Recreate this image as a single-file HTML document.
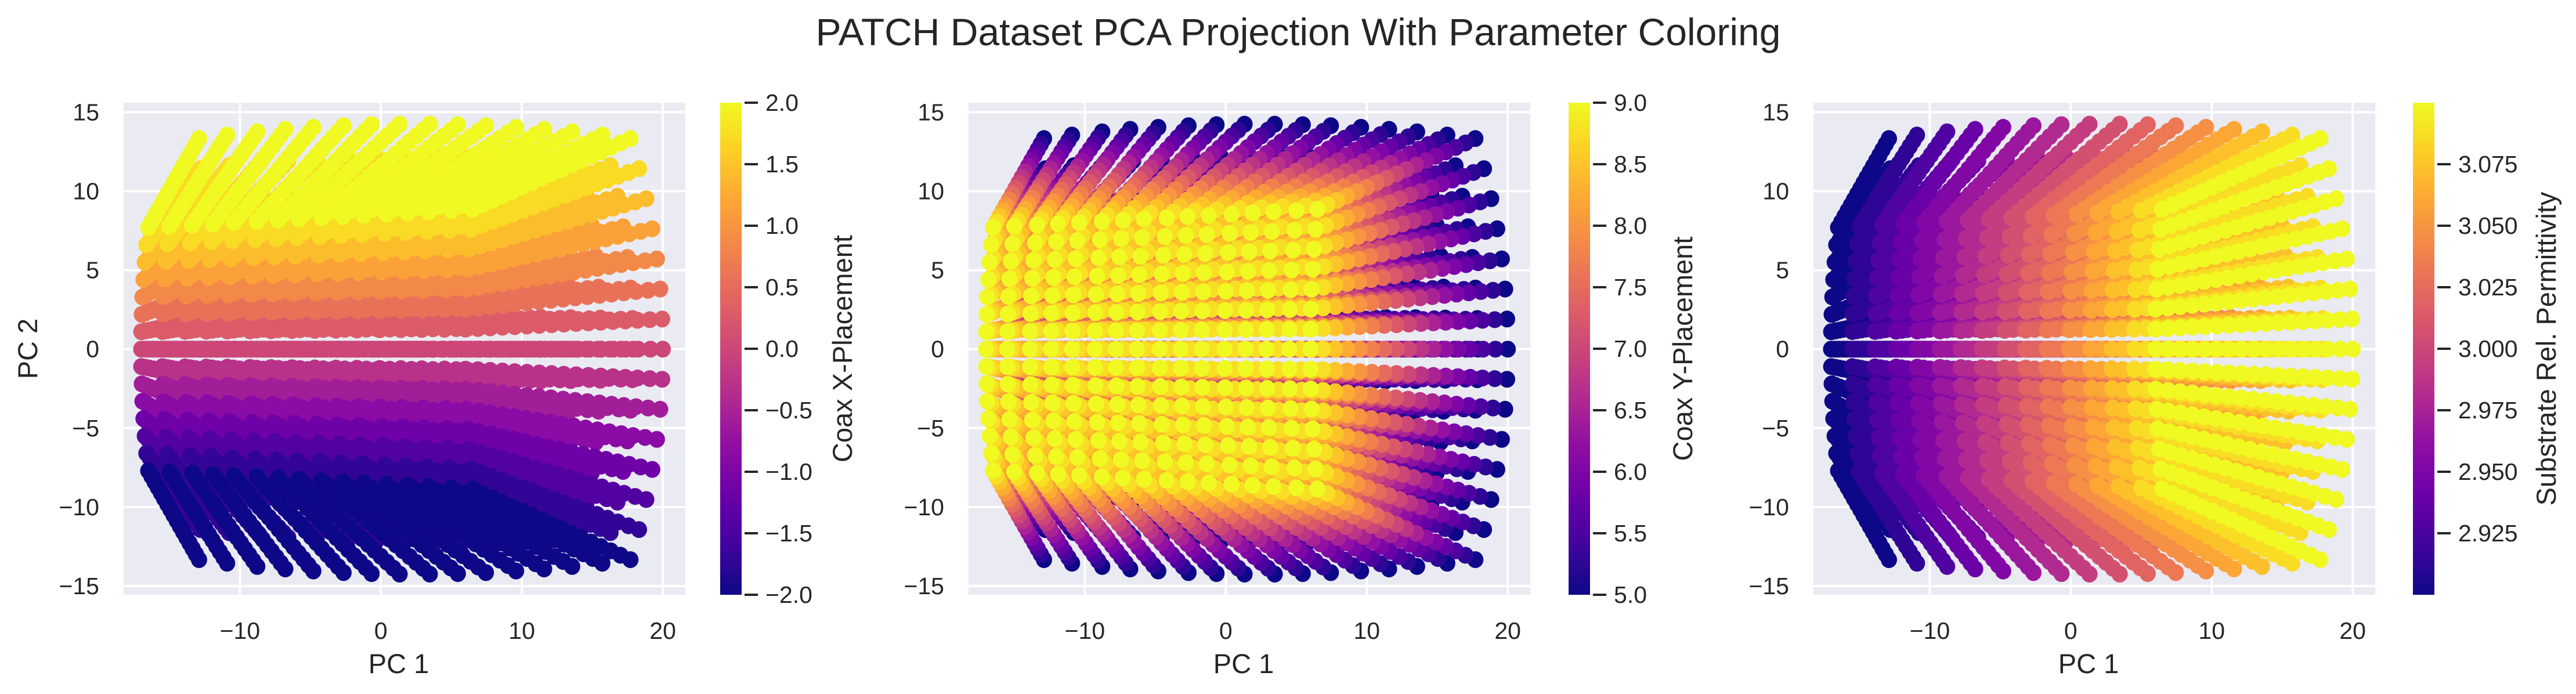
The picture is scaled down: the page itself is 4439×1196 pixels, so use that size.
<!DOCTYPE html>
<html><head><meta charset="utf-8"><style>
body{margin:0;background:#fff;}
svg text{font-family:"Liberation Sans",sans-serif;fill:#262626;}
</style></head><body>
<svg id="fig" width="4439" height="1191" viewBox="0 0 4439 1191" xmlns="http://www.w3.org/2000/svg">
<text x="2237" y="78" font-size="66" text-anchor="middle">PATCH Dataset PCA Projection With Parameter Coloring</text>
<defs>
<linearGradient id="plasma" x1="0" y1="1" x2="0" y2="0">
<stop offset="0" stop-color="#0d0887"/><stop offset="0.1" stop-color="#41049d"/><stop offset="0.2" stop-color="#6a00a8"/><stop offset="0.3" stop-color="#8f0da4"/><stop offset="0.4" stop-color="#b12a90"/><stop offset="0.5" stop-color="#cc4778"/><stop offset="0.6" stop-color="#e16462"/><stop offset="0.7" stop-color="#f2844b"/><stop offset="0.8" stop-color="#fca636"/><stop offset="0.9" stop-color="#fcce25"/><stop offset="1" stop-color="#f0f921"/>
</linearGradient>
</defs>
</svg>
<script>
// Parameter grid (sampled design values)
const xPlacement = [-2,-1.714,-1.429,-1.143,-0.857,-0.571,-0.286,0,0.286,0.571,0.857,1.143,1.429,1.714,2];
const yPlacement = [5,5.25,5.5,5.75,6,6.25,6.5,6.75,7,7.25,7.5,7.75,8,8.25,8.5,8.75,9];
const permittivity = [2.9,2.913,2.927,2.94,2.953,2.967,2.98,2.993,3.007,3.02,3.033,3.047,3.06,3.073,3.087,3.1];
const xTicks = [-10,0,10,20];
const yTicks = [-15,-10,-5,0,5,10,15];
const cbarTicks1 = [-2,-1.5,-1,-0.5,0,0.5,1,1.5,2];
const cbarTicks2 = [5,5.5,6,6.5,7,7.5,8,8.5,9];
const cbarTicks3 = [2.925,2.95,2.975,3,3.025,3.05,3.075];
const cbarLabels3 = ["2.925","2.950","2.975","3.000","3.025","3.050","3.075"];

const NS="http://www.w3.org/2000/svg";
const svg=document.getElementById('fig');
const stops=[[13,8,135],[65,4,157],[106,0,168],[143,13,164],[177,42,144],[204,71,120],[225,100,98],[242,132,75],[252,166,54],[252,206,37],[240,249,33]];
function plasma(t){t=Math.max(0,Math.min(1,t));const f=t*10,i=Math.min(9,Math.floor(f)),u=f-i;const a=stops[i],b=stops[i+1];
return 'rgb('+a.map((v,k)=>Math.round(v+(b[k]-v)*u)).join(',')+')';}
function mk(tag,attrs,parent){const e=document.createElementNS(NS,tag);for(const k in attrs)e.setAttribute(k,attrs[k]);(parent||svg).appendChild(e);return e;}

// PCA projection of the parameter grid
function project(xp,yp,er){
  const t=(er-2.9)/0.2, s=(9-yp)/4, q=xp/2;
  const pc1=-17+23*t + s*(4.5+9.5*t)*(1-0.2*q*q) + 0.5*q*q;
  const g=1-0.14*(2*t-1)*(2*t-1);
  const pc2=xp*3.85*(1+0.15*t*(1-s)+0.85*s*g);
  return [pc1,pc2];
}

const panels=[
 {x0:213,cb:1241,title:'Coax X-Placement',val:(xp,yp,er)=>xp,vmin:-2,vmax:2,ticks:cbarTicks1,labels:cbarTicks1.map(v=>(v<0?'\u2212':'')+Math.abs(v).toFixed(1)),ylabel:true,tx:1452,name:'x-placement'},
 {x0:1669,cb:2703,title:'Coax Y-Placement',val:(xp,yp,er)=>yp,vmin:5,vmax:9,ticks:cbarTicks2,labels:cbarTicks2.map(v=>v.toFixed(1)),ylabel:false,tx:2900,name:'y-placement'},
 {x0:3125,cb:4158,title:'Substrate Rel. Permittivity',val:(xp,yp,er)=>er,vmin:2.9,vmax:3.1,ticks:cbarTicks3,labels:cbarLabels3,ylabel:false,tx:4388,name:'permittivity'}
];
const W=968,TOP=177,BOT=1025;
const xmin=-18.25,xmax=21.6,ymin=-15.55,ymax=15.6;

panels.forEach((p,pi)=>{
  const g=mk('g',{});
  
  
  const sx=v=>p.x0+(v-xmin)/(xmax-xmin)*W;
  const sy=v=>BOT-(v-ymin)/(ymax-ymin)*(BOT-TOP);
  const bg=mk('rect',{x:p.x0,y:TOP,width:W,height:BOT-TOP,fill:'#eaeaf2'},g);
  
  
  xTicks.forEach(v=>{
    const l=mk('line',{x1:sx(v),x2:sx(v),y1:TOP,y2:BOT,stroke:'#fff','stroke-width':4},g);
    
    
    const t=mk('text',{x:sx(v),y:1101,'font-size':41,'text-anchor':'middle'},g);
    t.textContent=(v<0?'\u2212':'')+Math.abs(v);
    
    
  });
  yTicks.forEach(v=>{
    const l=mk('line',{x1:p.x0,x2:p.x0+W,y1:sy(v),y2:sy(v),stroke:'#fff','stroke-width':4},g);
    
    
    const t=mk('text',{x:p.x0-42,y:sy(v)+14,'font-size':41,'text-anchor':'end'},g);
    t.textContent=(v<0?'\u2212':'')+Math.abs(v);
    
    
  });
  const pts=mk('g',{},g);
  
  
  yPlacement.forEach(yp=>{permittivity.forEach(er=>{xPlacement.forEach(xp=>{
    const [a,b]=project(xp,yp,er);
    const c=mk('ellipse',{cx:sx(a).toFixed(1),cy:sy(b).toFixed(1),rx:14,ry:14.5,fill:plasma((p.val(xp,yp,er)-p.vmin)/(p.vmax-p.vmin))},pts);
    
    
  });});});
  const xl=mk('text',{x:p.x0+W/2-10,y:1160,'font-size':47,'text-anchor':'middle'},g);
  xl.textContent='PC 1';
  
  
  if(p.ylabel){
    const yl=mk('text',{x:0,y:0,'font-size':47,'text-anchor':'middle',transform:'translate(64,601) rotate(-90)'},g);
    yl.textContent='PC 2';
    
    
  }
  const cb=mk('rect',{x:p.cb,y:TOP,width:37,height:BOT-TOP,fill:'url(#plasma)'},g);
  
  
  p.ticks.forEach((v,i)=>{
    const y=BOT-(v-p.vmin)/(p.vmax-p.vmin)*(BOT-TOP);
    const tk=mk('line',{x1:p.cb+42,x2:p.cb+65,y1:y,y2:y,stroke:'#262626','stroke-width':4},g);
    
    
    const t=mk('text',{x:p.cb+78,y:y+14,'font-size':41},g);
    t.textContent=p.labels[i];
    
    
  });
  const ct=mk('text',{x:0,y:0,'font-size':47,'text-anchor':'middle',transform:'translate('+(p.tx+16)+',601) rotate(-90)'},g);
  ct.textContent=p.title;
  
  
});
</script>
</body></html>
